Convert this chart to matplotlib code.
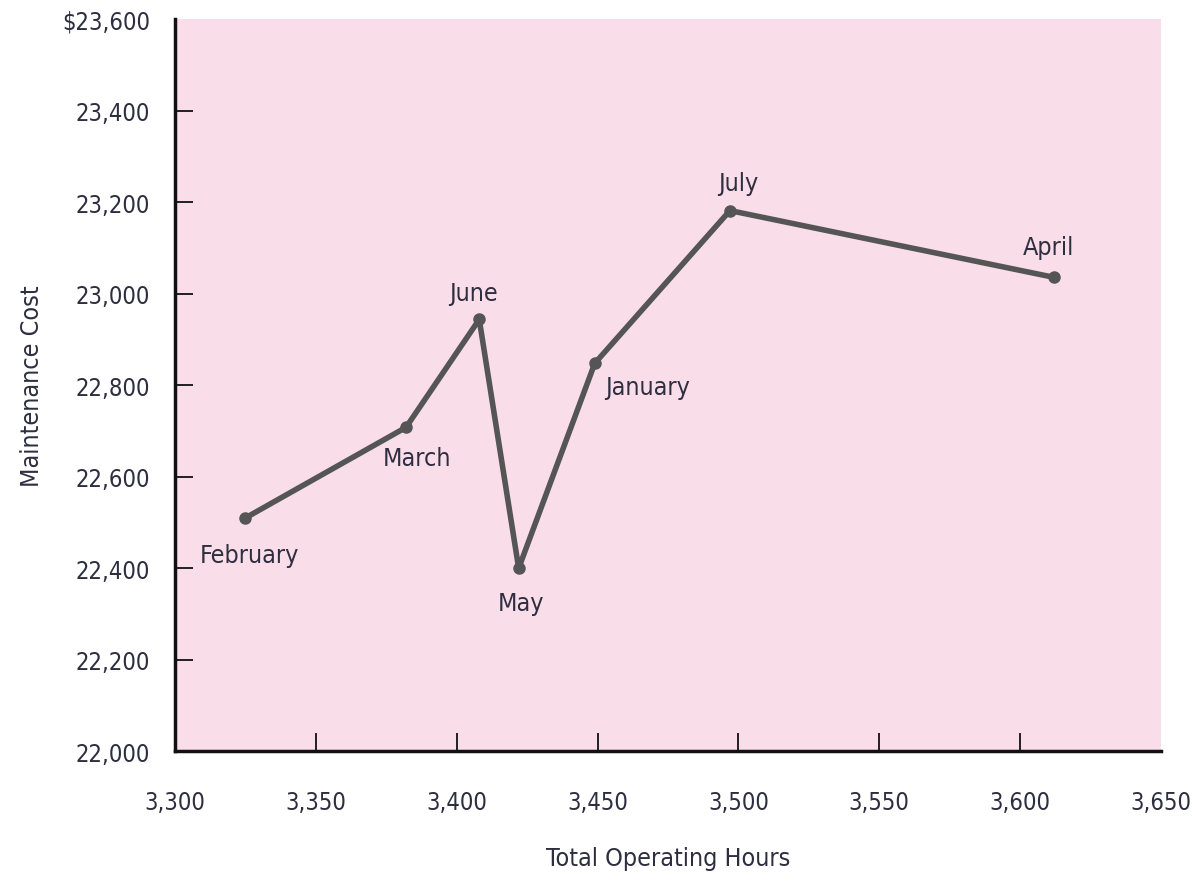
import matplotlib.pyplot as plt
from matplotlib.ticker import FuncFormatter

# monthly data
months = ['February', 'March', 'June', 'May', 'January', 'July', 'April']
hours = [3325, 3382, 3408, 3422, 3449, 3497, 3612]
cost = [22510, 22708, 22944, 22400, 22848, 23182, 23036]

# label offsets (points) relative to each dot
offsets = [(3, -27), (8, -22), (-4, 19), (2, -25), (38, -17), (6, 20), (-4, 22)]

x_ticks = list(range(3300, 3651, 50))
y_ticks = list(range(22000, 23601, 200))

plt.rcParams['font.family'] = ['DejaVu Sans']
plt.rcParams['font.stretch'] = 'condensed'

text_col = '#2e2e40'

fig = plt.figure(figsize=(11.92, 8.87), dpi=100)
ax = fig.add_axes([0.1468, 0.152, 0.8272, 0.825])
ax.set_facecolor('#f9dde9')

ax.plot(hours, cost, color='#555555', linewidth=4, marker='o', markersize=8,
        solid_joinstyle='round', zorder=3)

for m, x, y, off in zip(months, hours, cost, offsets):
    ax.annotate(m, (x, y), xytext=off, textcoords='offset points',
                ha='center', va='center', fontsize=18, color=text_col,
                fontstretch='condensed')

ax.set_xlim(3300, 3650)
ax.set_ylim(22000, 23600)
ax.set_xticks(x_ticks)
ax.set_yticks(y_ticks)


def fmt_y(v, pos):
    s = f'{int(v):,}'
    return '$' + s if v == 23600 else s


ax.xaxis.set_major_formatter(FuncFormatter(lambda v, p: f'{int(v):,}'))
ax.yaxis.set_major_formatter(FuncFormatter(fmt_y))

for s in ['top', 'right']:
    ax.spines[s].set_visible(False)
for s in ['left', 'bottom']:
    ax.spines[s].set_linewidth(2.5)
    ax.spines[s].set_color('#111111')

ax.tick_params(direction='in', length=13, width=1.3, color='#111111',
               labelsize=17, labelcolor=text_col)
ax.tick_params(axis='y', pad=18)
ax.tick_params(axis='x', pad=28)
for lbl in ax.get_xticklabels() + ax.get_yticklabels():
    lbl.set_fontstretch('condensed')

# no tick marks at the ends of the axes
ax.yaxis.get_major_ticks()[-1].tick1line.set_visible(False)
ax.xaxis.get_major_ticks()[-1].tick1line.set_visible(False)

ax.set_xlabel('Total Operating Hours', fontsize=18, color=text_col, labelpad=23,
              fontstretch='condensed')
ax.set_ylabel('Maintenance Cost', fontsize=18, color=text_col, labelpad=13,
              fontstretch='condensed')

plt.savefig('out.png', dpi=100)
